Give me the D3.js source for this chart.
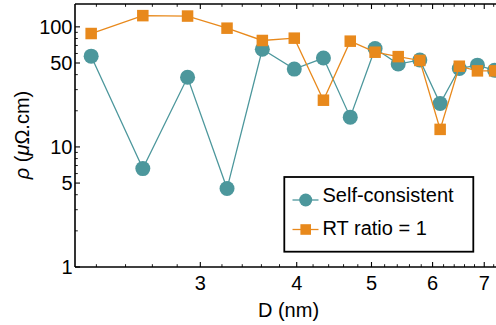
<!DOCTYPE html>
<html>
<head>
<meta charset="utf-8">
<script src="https://cdn.jsdelivr.net/npm/d3@7"></script>
<style>
  html, body { margin: 0; padding: 0; background: #fff; }
  svg { display: block; font-family: "Liberation Sans", Arial, Helvetica, sans-serif; }
</style>
</head>
<body>
<svg id="chart" width="496" height="325"></svg>
<script>
// ---- data ----
const diameters = [2.166, 2.527, 2.888, 3.249, 3.61, 3.971, 4.332, 4.693, 5.054, 5.415, 5.776, 6.137, 6.498, 6.859, 7.22];
const selfConsistent = [57, 6.6, 38, 4.5, 65, 44.5, 55, 17.7, 66, 49, 53, 23, 45, 48, 43.5];
const rtRatio1 = [88, 124, 123, 97.5, 77, 80.5, 24.5, 76, 61.5, 56.5, 52.5, 14, 47, 43, 43];
const seriesNames = ["Self-consistent", "RT ratio = 1"];
const xTickLabels = [3, 4, 5, 6, 7];
const yTickLabels = [1, 5, 10, 50, 100];
const yMinorTicks = [2, 3, 4, 6, 7, 8, 9, 20, 30, 40, 60, 70, 80, 90];
const xLabel = "D (nm)";

const teal = "#4c979c";
const orange = "#e8891c";

const svg = d3.select("#chart");
const L = 75, R = 496, T = 4, B = 267;

const x = d3.scaleLog().domain([2.064, 7.25]).range([L, R]);
const y = d3.scaleLog().domain([1, 155]).range([B, T]);

const xMinor = d3.range(2.2, 7.3, 0.2).map(v => +v.toFixed(1)).filter(v => !xTickLabels.includes(v) && v > 2.064 && v < 7.25);

// frame / axes
const axisG = svg.append("g").attr("stroke", "#000").attr("fill", "none");
axisG.append("line").attr("x1", L).attr("x2", R).attr("y1", B).attr("y2", B).attr("stroke-width", 1.6);
axisG.append("line").attr("x1", L).attr("x2", R).attr("y1", T).attr("y2", T).attr("stroke-width", 1.6);
axisG.append("line").attr("x1", L).attr("x2", L).attr("y1", T).attr("y2", B).attr("stroke-width", 1.6);

// x ticks (bottom + top)
xTickLabels.forEach(v => {
  const px = x(v);
  axisG.append("line").attr("x1", px).attr("x2", px).attr("y1", B).attr("y2", B - 5).attr("stroke-width", 1.1);
  axisG.append("line").attr("x1", px).attr("x2", px).attr("y1", T).attr("y2", T + 5).attr("stroke-width", 1.1);
});
xMinor.forEach(v => {
  const px = x(v);
  axisG.append("line").attr("x1", px).attr("x2", px).attr("y1", B).attr("y2", B - 2.8).attr("stroke-width", 0.9);
  axisG.append("line").attr("x1", px).attr("x2", px).attr("y1", T).attr("y2", T + 2.8).attr("stroke-width", 0.9);
});
// y ticks
yTickLabels.forEach(v => {
  const py = y(v);
  axisG.append("line").attr("x1", L).attr("x2", L + 5).attr("y1", py).attr("y2", py).attr("stroke-width", 1.1);
});
yMinorTicks.forEach(v => {
  const py = y(v);
  axisG.append("line").attr("x1", L).attr("x2", L + 2.8).attr("y1", py).attr("y2", py).attr("stroke-width", 0.9);
});

// tick labels
const lab = svg.append("g").attr("fill", "#000").attr("font-size", 20);
xTickLabels.forEach(v => {
  lab.append("text").attr("x", x(v)).attr("y", 289.5).attr("text-anchor", "middle").text(v);
});
yTickLabels.forEach(v => {
  lab.append("text").attr("x", 72.5).attr("y", y(v) + 7).attr("text-anchor", "end").text(v);
});
lab.append("text").attr("x", 288.5).attr("y", 317).attr("text-anchor", "middle").text(xLabel);
const yl = lab.append("text").attr("transform", "translate(28.5,135) rotate(-90)").attr("text-anchor", "middle");
yl.append("tspan").attr("font-style", "italic").text("ρ");
yl.append("tspan").text(" (");
yl.append("tspan").attr("font-style", "italic").text("μ");
yl.append("tspan").text("Ω.cm)");

// clip
svg.append("clipPath").attr("id", "clip").append("rect").attr("x", L).attr("y", T - 10).attr("width", R - L + 20).attr("height", B - T + 10);

const plot = svg.append("g");
const line = d3.line().x(d => x(d[0])).y(d => y(d[1]));
const scData = diameters.map((d, i) => [d, selfConsistent[i]]);
const rtData = diameters.map((d, i) => [d, rtRatio1[i]]);

plot.append("path").datum(scData).attr("d", line).attr("fill", "none").attr("stroke", teal).attr("stroke-width", 1.3);
plot.selectAll("circle.sc").data(scData).enter().append("circle")
  .attr("cx", d => x(d[0])).attr("cy", d => y(d[1])).attr("r", 7.5).attr("fill", teal);

plot.append("path").datum(rtData).attr("d", line).attr("fill", "none").attr("stroke", orange).attr("stroke-width", 1.3);
const sq = 11.5;
plot.selectAll("rect.rt").data(rtData).enter().append("rect")
  .attr("x", d => x(d[0]) - sq / 2).attr("y", d => y(d[1]) - sq / 2)
  .attr("width", sq).attr("height", sq).attr("fill", orange);

// legend
const lg = svg.append("g");
lg.append("rect").attr("x", 284.3).attr("y", 177).attr("width", 189).attr("height", 74.7)
  .attr("fill", "#fff").attr("stroke", "#000").attr("stroke-width", 1.8);
const rows = [
  { name: seriesNames[0], color: teal, shape: "circle", cy: 200, by: 201.8 },
  { name: seriesNames[1], color: orange, shape: "square", cy: 229.5, by: 235 }
];
rows.forEach(r => {
  lg.append("line").attr("x1", 292.5).attr("x2", 318.5).attr("y1", r.cy).attr("y2", r.cy)
    .attr("stroke", r.color).attr("stroke-width", 1.3);
  if (r.shape === "circle") {
    lg.append("circle").attr("cx", 305.7).attr("cy", r.cy).attr("r", 6.5).attr("fill", r.color);
  } else {
    lg.append("rect").attr("x", 305.7 - 5.3).attr("y", r.cy - 5.3).attr("width", 10.6).attr("height", 10.6).attr("fill", r.color);
  }
  lg.append("text").attr("x", 322.5).attr("y", r.by).attr("font-size", 20).attr("fill", "#000").text(r.name);
});
</script>
</body>
</html>
